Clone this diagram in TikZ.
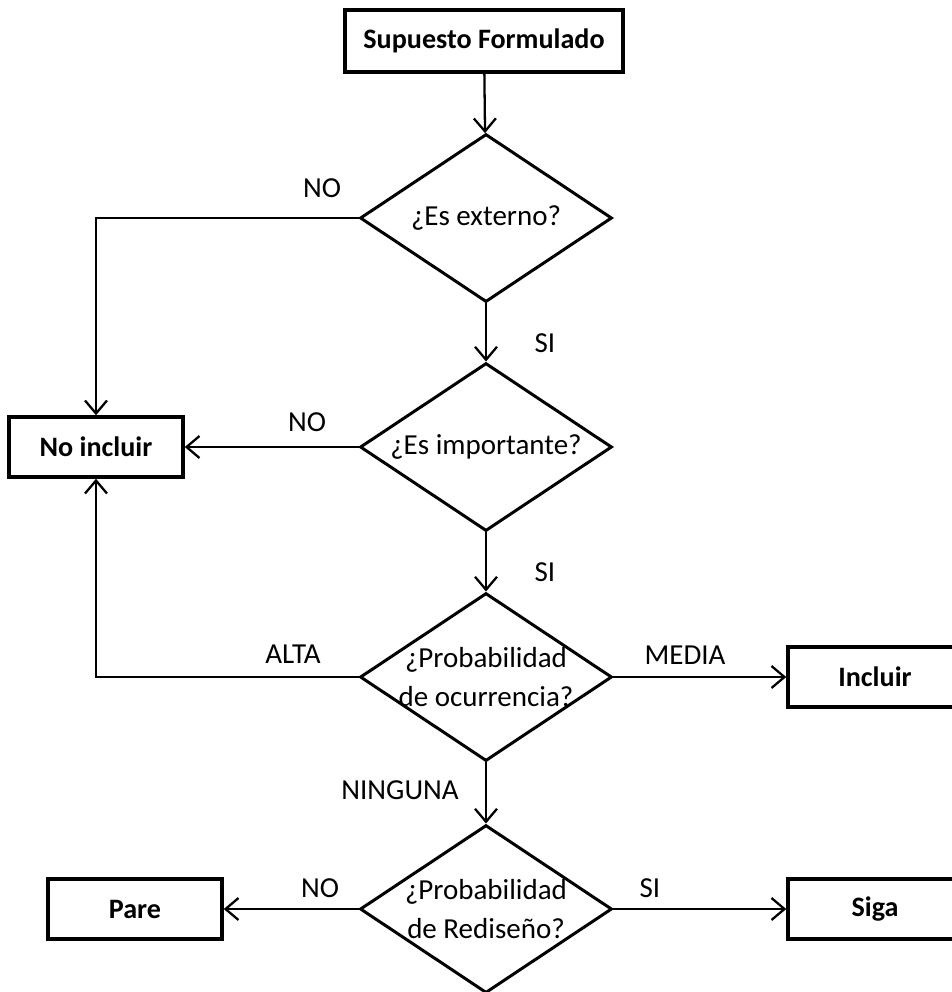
\documentclass[tikz,border=0pt]{standalone}
\usepackage{fontspec}
\setmainfont{Carlito}
\usetikzlibrary{shapes.geometric}
\usetikzlibrary{arrows.meta}
\newcommand{\linea}[1]{\makebox[0pt]{#1}}

\begin{document}
\begin{tikzpicture}[x=0.02cm, y=-0.02cm,
 font=\fontsize{16.5}{22}\selectfont,
 caja/.style={draw, line width=2pt, minimum width=3.48cm, minimum height=1.2cm, inner sep=0pt, font=\fontsize{16}{22}\selectfont\bfseries},
 pregunta/.style={draw, diamond, aspect=1.5, line width=1.7pt, minimum width=5.04cm, minimum height=3.36cm, inner sep=0pt, align=center},
 flecha/.style={line width=1.3pt, -{Straight Barb[length=2.6mm,width=4.4mm]}},
 etiqueta/.style={inner sep=1pt}]
\clip (0,0) rectangle (952,992);
% cajas
\node[caja, minimum width=5.56cm, minimum height=1.24cm] (sup) at (484,41) {Supuesto Formulado};
\node[caja] (noinc) at (96,447) {No incluir};
\node[caja] (inc) at (875,677) {Incluir};
\node[caja] (pare) at (135,909) {Pare};
\node[caja] (siga) at (875,909) {Siga};
% preguntas
\node[pregunta] (ext) at (486,218) {\linea{¿Es externo?}};
\node[pregunta] (imp) at (486,447) {\linea{¿Es importante?}};
\node[pregunta] (ocu) at (486,677) {\linea{¿Probabilidad}\\\linea{de ocurrencia?}};
\node[pregunta] (red) at (486,909) {\linea{¿Probabilidad}\\\linea{de Rediseño?}};
% flechas
\draw[flecha] (sup) -- (ext);
\draw[flecha] (ext.west) -| (noinc.north);
\draw[flecha] (ext) -- (imp);
\draw[flecha] (imp.west) -- (noinc.east);
\draw[flecha] (imp) -- (ocu);
\draw[flecha] (ocu.west) -| (noinc.south);
\draw[flecha] (ocu.east) -- (inc.west);
\draw[flecha] (ocu) -- (red);
\draw[flecha] (red.west) -- (pare.east);
\draw[flecha] (red.east) -- (siga.west);
% etiquetas
\node[etiqueta] (noA) at (322,188) {NO};
\node[etiqueta] (siA) at (545,343) {SI};
\node[etiqueta] (noB) at (307,422) {NO};
\node[etiqueta] (siB) at (545,572) {SI};
\node[etiqueta] (alta) at (293,654) {ALTA};
\node[etiqueta] (media) at (685,655) {MEDIA};
\node[etiqueta] (ninguna) at (400,790) {NINGUNA};
\node[etiqueta] (noC) at (320,888) {NO};
\node[etiqueta] (siC) at (650,888) {SI};
\end{tikzpicture}
\end{document}
